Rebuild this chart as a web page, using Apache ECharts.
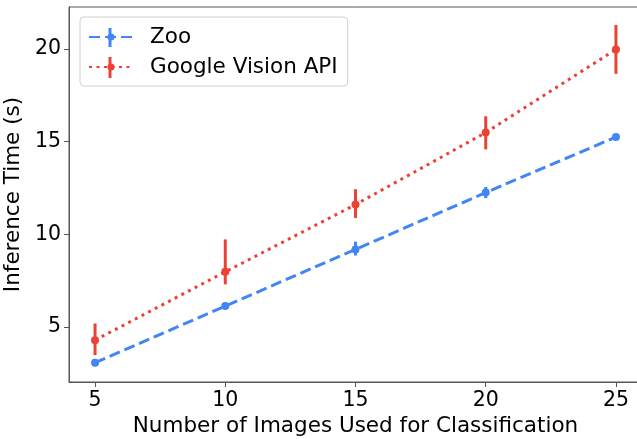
<!DOCTYPE html>
<html>
<head>
<meta charset="utf-8">
<script src="https://cdn.jsdelivr.net/npm/echarts@6/dist/echarts.min.js"></script>
<style>
  html, body { margin: 0; padding: 0; background: #fff; }
  #chart { width: 637px; height: 439px; }
</style>
</head>
<body>
<div id="chart"></div>
<script>
const sizes = [5, 10, 15, 20, 25];
const zooTime = [3.06, 6.12, 9.18, 12.25, 15.25];
const zooLow = [3.0, 6.05, 8.85, 11.95, 15.18];
const zooHigh = [3.12, 6.19, 9.6, 12.55, 15.32];
const googleTime = [4.28, 7.97, 11.6, 15.49, 19.98];
const googleLow = [3.47, 7.29, 10.88, 14.58, 18.66];
const googleHigh = [5.18, 9.72, 12.43, 16.37, 21.3];
const xTicks = [5, 10, 15, 20, 25];
const yTicks = [5, 10, 15, 20];

const BLUE = '#4285f4';
const RED = '#ea4335';
const FONT = 'DejaVu Sans';

const chart = echarts.init(document.getElementById('chart'), null, { renderer: 'canvas' });

function errorBars(name, low, high, color) {
  return {
    name: name + ' err',
    type: 'custom',
    z: 3,
    silent: true,
    data: sizes.map((x, i) => [x, low[i], high[i]]),
    encode: { x: 0, y: [1, 2] },
    renderItem: function (params, api) {
      const lo = api.coord([api.value(0), api.value(1)]);
      const hi = api.coord([api.value(0), api.value(2)]);
      return {
        type: 'line',
        shape: { x1: lo[0], y1: lo[1], x2: hi[0], y2: hi[1] },
        style: { stroke: color, lineWidth: 3 }
      };
    }
  };
}

function lineSeries(name, values, color, dash) {
  return {
    name: name,
    type: 'line',
    z: 4,
    data: sizes.map((x, i) => [x, values[i]]),
    symbol: 'circle',
    symbolSize: 8,
    itemStyle: { color: color },
    lineStyle: { color: color, width: 3, type: dash, cap: 'butt' },
    emphasis: { disabled: true }
  };
}

const option = {
  backgroundColor: '#ffffff',
  animation: false,
  grid: {
    left: 69, top: 7, right: -5, bottom: 57,
    containLabel: false, outerBoundsMode: 'none',
    show: true, borderColor: '#555', borderWidth: 1
  },
  legend: {
    data: ['Zoo', 'Google Vision API'],
    orient: 'vertical',
    left: 80, top: 17,
    padding: [9, 10, 8, 8],
    itemWidth: 44, itemHeight: 9, itemGap: 8,
    borderColor: '#d0d0d0', borderWidth: 1, borderRadius: 4,
    backgroundColor: 'rgba(255,255,255,0.8)',
    textStyle: { fontFamily: FONT, fontSize: 21.5, color: '#000', padding: [0, 0, 0, 12] }
  },
  xAxis: {
    type: 'value', min: 4, max: 26,
    name: 'Number of Images Used for Classification',
    nameLocation: 'middle', nameGap: 32,
    nameTextStyle: { fontFamily: FONT, fontSize: 21.5, color: '#000' },
    splitLine: { show: false },
    axisLine: { show: true, onZero: false, lineStyle: { color: '#555', width: 1 } },
    axisTick: { show: true, length: 5, customValues: xTicks, lineStyle: { color: '#555' } },
    axisLabel: { customValues: xTicks, fontFamily: FONT, fontSize: 20.5, color: '#000', margin: 8 }
  },
  yAxis: {
    type: 'value', min: 2.02, max: 22.27,
    name: 'Inference Time (s)',
    nameLocation: 'middle', nameGap: 32,
    nameTextStyle: { fontFamily: FONT, fontSize: 21.5, color: '#000' },
    splitLine: { show: false },
    axisLine: { show: true, onZero: false, lineStyle: { color: '#555', width: 1 } },
    axisTick: { show: true, length: 5, customValues: yTicks, lineStyle: { color: '#555' } },
    axisLabel: { customValues: yTicks, fontFamily: FONT, fontSize: 20.5, color: '#000', margin: 8 }
  },
  series: [
    errorBars('Zoo', zooLow, zooHigh, BLUE),
    errorBars('Google Vision API', googleLow, googleHigh, RED),
    lineSeries('Zoo', zooTime, BLUE, [11, 5]),
    lineSeries('Google Vision API', googleTime, RED, [3, 4.5])
  ],
  graphic: [
    { type: 'line', z: 100, shape: { x1: 110, y1: 28, x2: 110, y2: 47 }, style: { stroke: BLUE, lineWidth: 3 } },
    { type: 'line', z: 100, shape: { x1: 110, y1: 57, x2: 110, y2: 78 }, style: { stroke: RED, lineWidth: 3 } }
  ]
};

chart.setOption(option);
</script>
</body>
</html>
